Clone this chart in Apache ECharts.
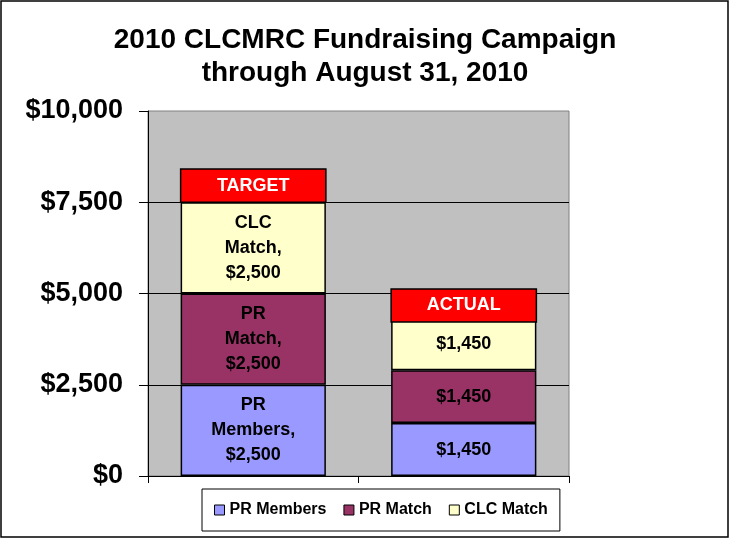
<!DOCTYPE html>
<html>
<head>
<meta charset="utf-8">
<script src="https://cdn.jsdelivr.net/npm/echarts@6/dist/echarts.min.js"></script>
<style>
  html, body { margin: 0; padding: 0; background: #fff; }
  #main { width: 730px; height: 540px; }
</style>
</head>
<body>
<div id="main"></div>
<script>
// categories (not shown as axis labels in the original)
const categories = ["Target", "Actual"];
const seriesNames = ["PR Members", "PR Match", "CLC Match"];
const prMembers = [2500, 1450];
const prMatch = [2500, 1450];
const clcMatch = [2500, 1450];
const prMembersText = ["PR\nMembers,\n$2,500", "$1,450"];
const prMatchText = ["PR\nMatch,\n$2,500", "$1,450"];
const clcMatchText = ["CLC\nMatch,\n$2,500", "$1,450"];
// red caption boxes on top of each bar: low / high value
const boxLow = [7500, 4220];
const boxHigh = [8410, 5125];
const boxText = ["TARGET", "ACTUAL"];
const yTicks = [0, 2500, 5000, 7500, 10000];

const FONT = "Liberation Sans, Arial, sans-serif";
let myChart = echarts.init(document.getElementById("main"));

function barSeries(name, values, texts, color) {
  return {
    name: name,
    type: "bar",
    stack: "total",
    barWidth: "69%",
    data: values,
    itemStyle: { color: color, borderColor: "#000", borderWidth: 1.5 },
    label: {
      show: true,
      position: "inside",
      formatter: (p) => texts[p.dataIndex],
      color: "#000",
      fontFamily: FONT,
      fontWeight: "bold",
      fontSize: 18,
      lineHeight: 25,
    },
  };
}

let option = {
  backgroundColor: "#fff",
  animation: false,
  title: {
    text: "2010 CLCMRC Fundraising Campaign\nthrough August 31, 2010",
    left: "center",
    top: 19,
    textStyle: {
      fontFamily: FONT,
      fontWeight: "bold",
      fontSize: 28,
      lineHeight: 33,
      color: "#000",
    },
  },
  legend: {
    data: seriesNames,
    left: 202,
    top: 489,
    padding: [13, 12],
    itemGap: 17,
    itemWidth: 10,
    itemHeight: 10,
    icon: "rect",
    borderColor: "#000",
    borderWidth: 1,
    itemStyle: { borderColor: "#000", borderWidth: 1 },
    textStyle: {
      fontFamily: FONT,
      fontWeight: "bold",
      fontSize: 16,
      color: "#000",
    },
  },
  graphic: [
    {
      type: "rect",
      shape: { x: 1, y: 1, width: 727, height: 536 },
      style: { fill: null, stroke: "#000", lineWidth: 1.5 },
      silent: true,
    },
  ],
  grid: {
    left: 148,
    right: 161,
    top: 111,
    bottom: 64,
    show: true,
    backgroundColor: "#C0C0C0",
    borderColor: "#808080",
    borderWidth: 1,
  },
  xAxis: {
    type: "category",
    data: categories,
    axisLine: { lineStyle: { color: "#000", width: 1 } },
    axisTick: { show: true, length: 7, lineStyle: { color: "#000" } },
    axisLabel: { show: false },
  },
  yAxis: {
    type: "value",
    min: yTicks[0],
    max: yTicks[yTicks.length - 1],
    interval: 2500,
    axisLine: { show: true, lineStyle: { color: "#000", width: 1 } },
    axisTick: { show: true, length: 9, lineStyle: { color: "#000" } },
    axisLabel: {
      margin: 25,
      formatter: (v) => "$" + v.toLocaleString("en-US"),
      color: "#000",
      fontFamily: FONT,
      fontWeight: "bold",
      fontSize: 27,
    },
    splitLine: {
      show: true,
      showMaxLine: false,
      lineStyle: { color: "#000", width: 1 },
    },
  },
  series: [
    barSeries(seriesNames[0], prMembers, prMembersText, "#9999FF"),
    barSeries(seriesNames[1], prMatch, prMatchText, "#993366"),
    barSeries(seriesNames[2], clcMatch, clcMatchText, "#FFFFCC"),
    {
      name: "box",
      type: "custom",
      z: 5,
      data: categories.map((c, i) => [i, boxLow[i], boxHigh[i]]),
      encode: { x: 0, y: [1, 2] },
      renderItem: function (params, api) {
        const i = api.value(0);
        const lo = api.coord([i, api.value(1)]);
        const hi = api.coord([i, api.value(2)]);
        const w = api.size([1, 0])[0] * 0.69;
        return {
          type: "rect",
          shape: { x: lo[0] - w / 2, y: hi[1], width: w, height: lo[1] - hi[1] },
          style: { fill: "#FF0000", stroke: "#000", lineWidth: 1.5 },
          textContent: {
            style: {
              text: boxText[params.dataIndex],
              fill: "#fff",
              font: "bold 18px " + FONT,
            },
          },
          textConfig: { position: "inside" },
        };
      },
    },
  ],
};

myChart.setOption(option);
</script>
</body>
</html>
